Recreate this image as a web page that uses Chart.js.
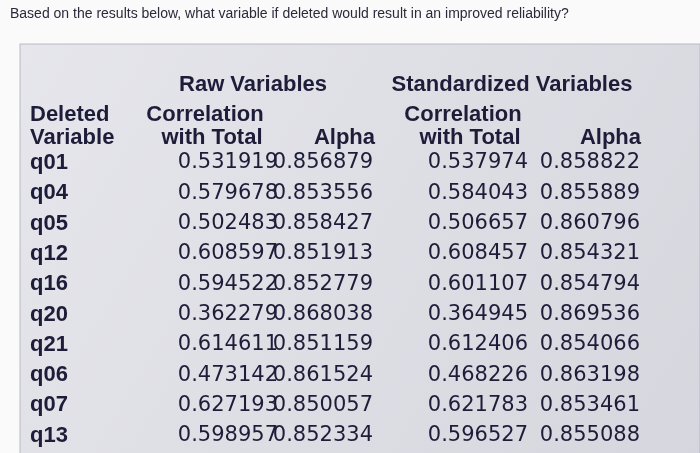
<!DOCTYPE html>
<html>
<head>
<meta charset="utf-8">
<script src="https://cdn.jsdelivr.net/npm/chart.js@4"></script>
<style>
  body { margin: 0; background: #fff; }
  #wrap { width: 700px; height: 453px; }
</style>
</head>
<body>
<div id="wrap"><canvas id="c"></canvas></div>
<script>
const question = 'Based on the results below, what variable if deleted would result in an improved reliability?';
const variables = ['q01', 'q04', 'q05', 'q12', 'q16', 'q20', 'q21', 'q06', 'q07', 'q13'];
const rawCorr = ['0.531919', '0.579678', '0.502483', '0.608597', '0.594522', '0.362279', '0.614611', '0.473142', '0.627193', '0.598957'];
const rawAlpha = ['0.856879', '0.853556', '0.858427', '0.851913', '0.852779', '0.868038', '0.851159', '0.861524', '0.850057', '0.852334'];
const stdCorr = ['0.537974', '0.584043', '0.506657', '0.608457', '0.601107', '0.364945', '0.612406', '0.468226', '0.621783', '0.596527'];
const stdAlpha = ['0.858822', '0.855889', '0.860796', '0.854321', '0.854794', '0.869536', '0.854066', '0.863198', '0.853461', '0.855088'];

// column anchors on the x scale (0..700) and alignment
const columns = [
  { x: 30, align: 'left', values: variables },
  { x: 278, align: 'right', values: rawCorr },
  { x: 373, align: 'right', values: rawAlpha },
  { x: 528, align: 'right', values: stdCorr },
  { x: 640, align: 'right', values: stdAlpha }
];

// header texts: [x, row, text, align]
const headers = [
  [253, -2.57, 'Raw Variables', 'center'],
  [512, -2.57, 'Standardized Variables', 'center'],
  [30, -1.58, 'Deleted', 'left'],
  [30, -0.83, 'Variable', 'left'],
  [205, -1.58, 'Correlation', 'center'],
  [212, -0.83, 'with Total', 'center'],
  [375, -0.83, 'Alpha', 'right'],
  [463, -1.58, 'Correlation', 'center'],
  [470, -0.83, 'with Total', 'center'],
  [641, -0.83, 'Alpha', 'right']
];

const points = [];
columns.forEach(col => col.values.forEach((v, i) => points.push({ x: col.x, y: i, t: v, a: col.align })));

const tablePlugin = {
  id: 'tableText',
  beforeDraw(chart) {
    const ctx = chart.ctx;
    const grd = ctx.createLinearGradient(0, 30, 700, 453);
    grd.addColorStop(0, '#e6e6ec');
    grd.addColorStop(1, '#d6d6de');
    ctx.save();
    ctx.fillStyle = '#fafafa';
    ctx.fillRect(0, 0, 700, 453);
    ctx.fillStyle = grd;
    ctx.fillRect(20, 44, 680, 409);
    ctx.strokeStyle = '#b9b9c4';
    ctx.lineWidth = 1;
    ctx.strokeRect(20, 44, 680, 420);
    ctx.fillStyle = '#2a2a3a';
    ctx.font = '14px "Liberation Sans", Arial, sans-serif';
    ctx.textBaseline = 'middle';
    ctx.fillText(question, 10, 14);
    ctx.restore();
  },
  afterDraw(chart) {
    const ctx = chart.ctx;
    const xs = chart.scales.x, ys = chart.scales.y;
    ctx.save();
    ctx.fillStyle = '#1d1d3a';
    ctx.textBaseline = 'middle';
    ctx.font = 'bold 22px "Liberation Sans", Arial, sans-serif';
    headers.forEach(h => {
      ctx.textAlign = h[3];
      ctx.fillText(h[2], xs.getPixelForValue(h[0]), ys.getPixelForValue(h[1]));
    });
    points.forEach(p => {
      ctx.textAlign = p.a;
      ctx.font = p.a === 'left' ? 'bold 22px "Liberation Sans", Arial, sans-serif' : '21px "DejaVu Sans", sans-serif';
      ctx.fillText(p.t, xs.getPixelForValue(p.x), ys.getPixelForValue(p.y));
    });
    ctx.restore();
  }
};

new Chart(document.getElementById('c'), {
  type: 'scatter',
  data: { datasets: [{ data: points, pointRadius: 0 }] },
  options: {
    responsive: true,
    maintainAspectRatio: false,
    animation: false,
    layout: { padding: 0 },
    plugins: { legend: { display: false }, tooltip: { enabled: false } },
    scales: {
      x: { type: 'linear', min: 0, max: 700, display: false },
      y: { type: 'linear', min: -5.38, max: 9.57, reverse: true, display: false }
    }
  },
  plugins: [tablePlugin]
});
</script>
</body>
</html>
